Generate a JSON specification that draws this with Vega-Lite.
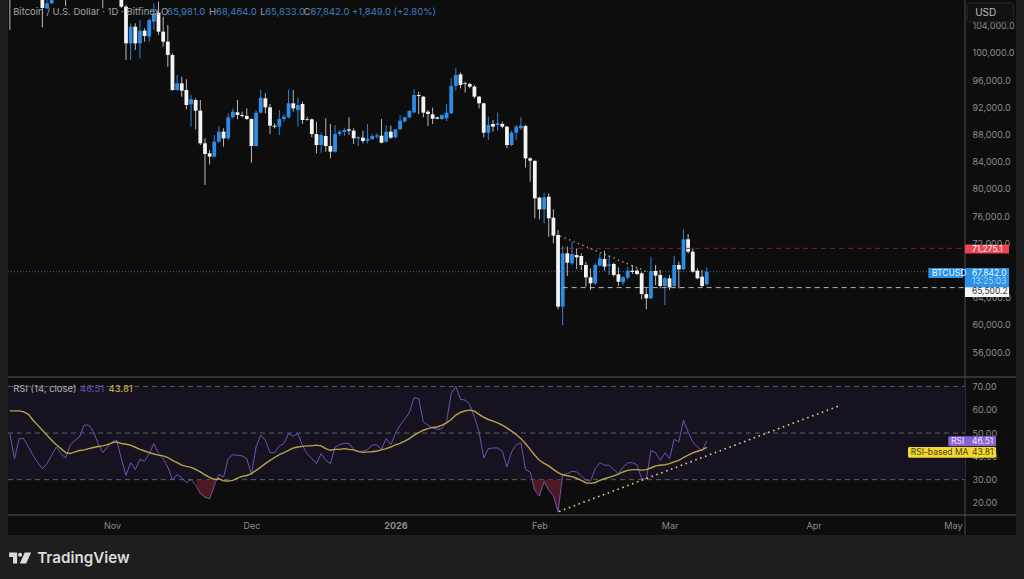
{
  "$schema": "https://vega.github.io/schema/vega-lite/v6.json",
  "width": 1024,
  "height": 579,
  "autosize": {"type": "none"},
  "padding": 0,
  "background": "#0d0d0d",
  "config": {"view": {"stroke": null}, "font": "Inter"},
  "datasets": {
    "candles": [
      {"date":"2025-10-10","open":109300,"high":109800,"low":103380,"close":108300},
      {"date":"2025-10-17","open":108040,"high":108780,"low":103780,"close":106620},
      {"date":"2025-10-18","open":106570,"high":107790,"low":106420,"close":107300},
      {"date":"2025-10-19","open":107300,"high":108770,"low":107200,"close":108280},
      {"date":"2025-10-22","open":109000,"high":110000,"low":106910,"close":108300},
      {"date":"2025-10-30","open":110000,"high":111000,"low":106570,"close":108600},
      {"date":"2025-11-03","open":109270,"high":110600,"low":106620,"close":106810},
      {"date":"2025-11-04","open":106810,"high":107060,"low":98970,"close":101420},
      {"date":"2025-11-05","open":101420,"high":104360,"low":98970,"close":103870},
      {"date":"2025-11-06","open":103870,"high":104360,"low":100440,"close":101420},
      {"date":"2025-11-07","open":101420,"high":104850,"low":99220,"close":103280},
      {"date":"2025-11-08","open":103280,"high":103630,"low":101670,"close":102500},
      {"date":"2025-11-09","open":102400,"high":105100,"low":101670,"close":104850},
      {"date":"2025-11-10","open":104610,"high":107300,"low":103380,"close":105830},
      {"date":"2025-11-11","open":105930,"high":107550,"low":102650,"close":103140},
      {"date":"2025-11-12","open":103140,"high":105340,"low":100930,"close":101670},
      {"date":"2025-11-13","open":101670,"high":104120,"low":97990,"close":99710},
      {"date":"2025-11-14","open":99710,"high":99950,"low":94460,"close":94560},
      {"date":"2025-11-15","open":94560,"high":96760,"low":94460,"close":95540},
      {"date":"2025-11-16","open":95540,"high":96520,"low":93580,"close":94460},
      {"date":"2025-11-17","open":94560,"high":96130,"low":91720,"close":92350},
      {"date":"2025-11-18","open":92450,"high":93820,"low":89170,"close":93190},
      {"date":"2025-11-19","open":93090,"high":93330,"low":88770,"close":91520},
      {"date":"2025-11-20","open":91520,"high":93090,"low":86470,"close":86720},
      {"date":"2025-11-21","open":86720,"high":87450,"low":80590,"close":85150},
      {"date":"2025-11-22","open":85250,"high":85740,"low":83630,"close":84760},
      {"date":"2025-11-23","open":84760,"high":87940,"low":84660,"close":86960},
      {"date":"2025-11-24","open":86960,"high":89260,"low":86810,"close":88430},
      {"date":"2025-11-25","open":88430,"high":88920,"low":86230,"close":87450},
      {"date":"2025-11-26","open":87450,"high":91130,"low":87210,"close":90540},
      {"date":"2025-11-27","open":90540,"high":91860,"low":90390,"close":91370},
      {"date":"2025-11-28","open":91270,"high":93090,"low":90250,"close":90880},
      {"date":"2025-11-29","open":90880,"high":91370,"low":90540,"close":90740},
      {"date":"2025-11-30","open":90740,"high":91860,"low":90150,"close":90290},
      {"date":"2025-12-01","open":90290,"high":90390,"low":83870,"close":86320},
      {"date":"2025-12-02","open":86320,"high":91520,"low":86230,"close":91230},
      {"date":"2025-12-03","open":91230,"high":94560,"low":91130,"close":93430},
      {"date":"2025-12-04","open":93330,"high":94070,"low":91130,"close":92010},
      {"date":"2025-12-05","open":92010,"high":92500,"low":88090,"close":89310},
      {"date":"2025-12-06","open":89310,"high":89660,"low":88920,"close":89170},
      {"date":"2025-12-07","open":89170,"high":91620,"low":87940,"close":90290},
      {"date":"2025-12-08","open":90290,"high":91030,"low":89900,"close":90640},
      {"date":"2025-12-09","open":90540,"high":94660,"low":90390,"close":92600},
      {"date":"2025-12-10","open":92600,"high":94560,"low":91370,"close":91860},
      {"date":"2025-12-11","open":91620,"high":93430,"low":89170,"close":92350},
      {"date":"2025-12-12","open":92500,"high":92840,"low":89560,"close":90150},
      {"date":"2025-12-13","open":90250,"high":90640,"low":90050,"close":90150},
      {"date":"2025-12-14","open":90240,"high":90390,"low":87600,"close":88090},
      {"date":"2025-12-15","open":88090,"high":89900,"low":85240,"close":86470},
      {"date":"2025-12-16","open":86470,"high":88280,"low":85340,"close":87940},
      {"date":"2025-12-17","open":87790,"high":90390,"low":85490,"close":86320},
      {"date":"2025-12-18","open":86320,"high":89560,"low":84510,"close":85490},
      {"date":"2025-12-19","open":85490,"high":89410,"low":85340,"close":88090},
      {"date":"2025-12-20","open":88090,"high":88680,"low":87790,"close":88430},
      {"date":"2025-12-21","open":88380,"high":89020,"low":87790,"close":88680},
      {"date":"2025-12-22","open":88770,"high":90540,"low":87940,"close":88580},
      {"date":"2025-12-23","open":88580,"high":88920,"low":86620,"close":87450},
      {"date":"2025-12-24","open":87400,"high":87790,"low":86320,"close":87600},
      {"date":"2025-12-25","open":87550,"high":88580,"low":86720,"close":87060},
      {"date":"2025-12-26","open":87110,"high":89560,"low":86720,"close":87400},
      {"date":"2025-12-27","open":87350,"high":88090,"low":87210,"close":87790},
      {"date":"2025-12-28","open":87700,"high":88190,"low":87400,"close":87890},
      {"date":"2025-12-29","open":87840,"high":90290,"low":86720,"close":86810},
      {"date":"2025-12-30","open":86960,"high":89410,"low":86810,"close":88430},
      {"date":"2025-12-31","open":88430,"high":89310,"low":87350,"close":87550},
      {"date":"2026-01-01","open":87600,"high":88820,"low":87450,"close":88770},
      {"date":"2026-01-02","open":88770,"high":90880,"low":88680,"close":90050},
      {"date":"2026-01-03","open":89950,"high":90640,"low":89750,"close":90540},
      {"date":"2026-01-04","open":90540,"high":91620,"low":90390,"close":91470},
      {"date":"2026-01-05","open":91270,"high":94660,"low":91130,"close":93820},
      {"date":"2026-01-06","open":93820,"high":94310,"low":91030,"close":93680},
      {"date":"2026-01-07","open":93580,"high":93680,"low":90540,"close":91230},
      {"date":"2026-01-08","open":91370,"high":91620,"low":89260,"close":91030},
      {"date":"2026-01-09","open":90980,"high":91960,"low":89560,"close":90340},
      {"date":"2026-01-10","open":90540,"high":90640,"low":90240,"close":90340},
      {"date":"2026-01-11","open":90290,"high":90980,"low":90150,"close":90880},
      {"date":"2026-01-12","open":90390,"high":92500,"low":90000,"close":91230},
      {"date":"2026-01-13","open":91130,"high":96270,"low":91030,"close":95150},
      {"date":"2026-01-14","open":95150,"high":97750,"low":94460,"close":96760},
      {"date":"2026-01-15","open":96860,"high":97110,"low":94800,"close":95290},
      {"date":"2026-01-16","open":95540,"high":95780,"low":94170,"close":95440},
      {"date":"2026-01-17","open":95440,"high":95640,"low":94800,"close":95050},
      {"date":"2026-01-18","open":95050,"high":95290,"low":93330,"close":93580},
      {"date":"2026-01-19","open":93580,"high":93680,"low":91860,"close":92600},
      {"date":"2026-01-20","open":92600,"high":92700,"low":87600,"close":88280},
      {"date":"2026-01-21","open":88280,"high":90640,"low":87210,"close":89410},
      {"date":"2026-01-22","open":89560,"high":90150,"low":88430,"close":89170},
      {"date":"2026-01-23","open":89410,"high":91230,"low":88580,"close":89660},
      {"date":"2026-01-24","open":89560,"high":89900,"low":88920,"close":89170},
      {"date":"2026-01-25","open":89170,"high":89260,"low":85980,"close":86470},
      {"date":"2026-01-26","open":86470,"high":88580,"low":86320,"close":88280},
      {"date":"2026-01-27","open":88280,"high":89410,"low":87210,"close":89170},
      {"date":"2026-01-28","open":88920,"high":90540,"low":88680,"close":89310},
      {"date":"2026-01-29","open":89260,"high":89410,"low":83190,"close":84510},
      {"date":"2026-01-30","open":84510,"high":84660,"low":81080,"close":84170},
      {"date":"2026-01-31","open":84120,"high":84260,"low":75690,"close":78630},
      {"date":"2026-02-01","open":78730,"high":78870,"low":75540,"close":77010},
      {"date":"2026-02-02","open":77010,"high":79460,"low":74950,"close":78770},
      {"date":"2026-02-03","open":78870,"high":79360,"low":72990,"close":75690},
      {"date":"2026-02-04","open":75780,"high":77010,"low":72010,"close":73140},
      {"date":"2026-02-05","open":73240,"high":73970,"low":62300,"close":62700},
      {"date":"2026-02-06","open":62700,"high":71620,"low":60000,"close":70540},
      {"date":"2026-02-07","open":70540,"high":71520,"low":67210,"close":69170},
      {"date":"2026-02-08","open":69070,"high":72260,"low":68820,"close":70440},
      {"date":"2026-02-09","open":70290,"high":71270,"low":68190,"close":69950},
      {"date":"2026-02-10","open":70150,"high":70540,"low":68090,"close":68820},
      {"date":"2026-02-11","open":68820,"high":69310,"low":65640,"close":67010},
      {"date":"2026-02-12","open":67010,"high":68330,"low":65150,"close":66130},
      {"date":"2026-02-13","open":66130,"high":69070,"low":65880,"close":68820},
      {"date":"2026-02-14","open":68730,"high":70540,"low":68580,"close":69800},
      {"date":"2026-02-15","open":69710,"high":70930,"low":67990,"close":68580},
      {"date":"2026-02-16","open":68730,"high":70290,"low":67350,"close":68920},
      {"date":"2026-02-17","open":68970,"high":69170,"low":67110,"close":67350},
      {"date":"2026-02-18","open":67450,"high":68480,"low":65740,"close":66370},
      {"date":"2026-02-19","open":66270,"high":67210,"low":65880,"close":67010},
      {"date":"2026-02-20","open":66960,"high":68580,"low":66720,"close":67990},
      {"date":"2026-02-21","open":67990,"high":68820,"low":67500,"close":67790},
      {"date":"2026-02-22","open":67990,"high":68330,"low":67350,"close":67500},
      {"date":"2026-02-23","open":67600,"high":67840,"low":63770,"close":64560},
      {"date":"2026-02-24","open":64560,"high":65390,"low":62300,"close":63920},
      {"date":"2026-02-25","open":63920,"high":70050,"low":63770,"close":67940},
      {"date":"2026-02-26","open":67940,"high":68820,"low":65880,"close":67260},
      {"date":"2026-02-27","open":67350,"high":68090,"low":65390,"close":65740},
      {"date":"2026-02-28","open":65740,"high":67110,"low":62940,"close":66860},
      {"date":"2026-03-01","open":66860,"high":67350,"low":65150,"close":65540},
      {"date":"2026-03-02","open":65740,"high":70150,"low":65390,"close":68820},
      {"date":"2026-03-03","open":68820,"high":69310,"low":65390,"close":68190},
      {"date":"2026-03-04","open":68190,"high":74070,"low":68090,"close":72600},
      {"date":"2026-03-05","open":72600,"high":73380,"low":70540,"close":70780},
      {"date":"2026-03-06","open":70780,"high":71270,"low":67700,"close":67840},
      {"date":"2026-03-07","open":67990,"high":68330,"low":66720,"close":66860},
      {"date":"2026-03-08","open":67110,"high":68090,"low":65540,"close":65740},
      {"date":"2026-03-09","open":65981,"high":68464,"low":65833,"close":67842}
    ],
    "rsi": [
      {"date":"2025-10-10","rsi":49.8,"ma":59.5},{"date":"2025-10-11","rsi":39.0,"ma":59.5},
      {"date":"2025-10-12","rsi":47.6,"ma":59.5},{"date":"2025-10-13","rsi":47.6,"ma":59.1},
      {"date":"2025-10-14","rsi":44.0,"ma":58.0},{"date":"2025-10-15","rsi":40.5,"ma":55.5},
      {"date":"2025-10-16","rsi":37.3,"ma":53.4},{"date":"2025-10-17","rsi":34.7,"ma":51.2},
      {"date":"2025-10-18","rsi":36.9,"ma":49.1},{"date":"2025-10-19","rsi":40.5,"ma":46.9},
      {"date":"2025-10-20","rsi":44.0,"ma":45.0},{"date":"2025-10-21","rsi":41.2,"ma":43.3},
      {"date":"2025-10-22","rsi":39.3,"ma":41.6},{"date":"2025-10-23","rsi":44.8,"ma":41.2},
      {"date":"2025-10-24","rsi":46.9,"ma":41.9},{"date":"2025-10-25","rsi":48.3,"ma":42.5},
      {"date":"2025-10-26","rsi":53.4,"ma":42.8},{"date":"2025-10-27","rsi":53.4,"ma":43.3},
      {"date":"2025-10-28","rsi":50.5,"ma":43.8},{"date":"2025-10-29","rsi":45.5,"ma":44.2},
      {"date":"2025-10-30","rsi":41.6,"ma":44.5},{"date":"2025-10-31","rsi":44.0,"ma":45.0},
      {"date":"2025-11-01","rsi":46.2,"ma":45.8},{"date":"2025-11-02","rsi":46.9,"ma":46.2},
      {"date":"2025-11-03","rsi":39.0,"ma":45.5},{"date":"2025-11-04","rsi":31.8,"ma":45.2},
      {"date":"2025-11-05","rsi":37.3,"ma":44.8},{"date":"2025-11-06","rsi":34.3,"ma":43.9},
      {"date":"2025-11-07","rsi":38.7,"ma":43.0},{"date":"2025-11-08","rsi":37.9,"ma":42.3},
      {"date":"2025-11-09","rsi":41.2,"ma":41.6},{"date":"2025-11-10","rsi":45.5,"ma":41.0},
      {"date":"2025-11-11","rsi":41.2,"ma":40.5},{"date":"2025-11-12","rsi":39.0,"ma":40.2},
      {"date":"2025-11-13","rsi":35.4,"ma":39.5},{"date":"2025-11-14","rsi":30.1,"ma":38.3},
      {"date":"2025-11-15","rsi":32.1,"ma":37.3},{"date":"2025-11-16","rsi":30.8,"ma":36.2},
      {"date":"2025-11-17","rsi":28.7,"ma":35.7},{"date":"2025-11-18","rsi":30.1,"ma":35.3},
      {"date":"2025-11-19","rsi":27.8,"ma":34.4},{"date":"2025-11-20","rsi":24.0,"ma":33.3},
      {"date":"2025-11-21","rsi":22.5,"ma":32.1},{"date":"2025-11-22","rsi":21.8,"ma":31.0},
      {"date":"2025-11-23","rsi":27.5,"ma":30.1},{"date":"2025-11-24","rsi":32.3,"ma":30.4},
      {"date":"2025-11-25","rsi":31.1,"ma":29.5},{"date":"2025-11-26","rsi":39.0,"ma":29.4},
      {"date":"2025-11-27","rsi":40.7,"ma":29.7},{"date":"2025-11-28","rsi":40.5,"ma":30.7},
      {"date":"2025-11-29","rsi":40.2,"ma":31.4},{"date":"2025-11-30","rsi":39.0,"ma":31.8},
      {"date":"2025-12-01","rsi":32.3,"ma":32.6},{"date":"2025-12-02","rsi":44.0,"ma":34.0},
      {"date":"2025-12-03","rsi":49.1,"ma":35.4},{"date":"2025-12-04","rsi":46.9,"ma":36.9},
      {"date":"2025-12-05","rsi":41.6,"ma":38.3},{"date":"2025-12-06","rsi":41.6,"ma":39.5},
      {"date":"2025-12-07","rsi":44.5,"ma":40.7},{"date":"2025-12-08","rsi":45.5,"ma":41.6},
      {"date":"2025-12-09","rsi":49.8,"ma":42.6},{"date":"2025-12-10","rsi":48.6,"ma":43.6},
      {"date":"2025-12-11","rsi":49.8,"ma":44.0},{"date":"2025-12-12","rsi":44.5,"ma":44.3},
      {"date":"2025-12-13","rsi":41.2,"ma":44.5},{"date":"2025-12-14","rsi":39.0,"ma":44.5},
      {"date":"2025-12-15","rsi":36.9,"ma":44.8},{"date":"2025-12-16","rsi":41.2,"ma":44.5},
      {"date":"2025-12-17","rsi":38.3,"ma":43.3},{"date":"2025-12-18","rsi":36.9,"ma":42.6},
      {"date":"2025-12-19","rsi":44.0,"ma":43.0},{"date":"2025-12-20","rsi":45.0,"ma":43.0},
      {"date":"2025-12-21","rsi":45.6,"ma":43.3},{"date":"2025-12-22","rsi":45.5,"ma":43.0},
      {"date":"2025-12-23","rsi":43.0,"ma":42.8},{"date":"2025-12-24","rsi":42.2,"ma":42.0},
      {"date":"2025-12-25","rsi":42.2,"ma":41.7},{"date":"2025-12-26","rsi":43.0,"ma":41.9},
      {"date":"2025-12-27","rsi":44.8,"ma":42.0},{"date":"2025-12-28","rsi":45.0,"ma":42.3},
      {"date":"2025-12-29","rsi":43.0,"ma":42.8},{"date":"2025-12-30","rsi":47.6,"ma":43.3},
      {"date":"2025-12-31","rsi":45.0,"ma":44.0},{"date":"2026-01-01","rsi":49.8,"ma":44.9},
      {"date":"2026-01-02","rsi":53.4,"ma":45.6},{"date":"2026-01-03","rsi":55.9,"ma":46.5},
      {"date":"2026-01-04","rsi":58.8,"ma":47.6},{"date":"2026-01-05","rsi":65.1,"ma":49.1},
      {"date":"2026-01-06","rsi":64.8,"ma":50.2},{"date":"2026-01-07","rsi":54.8,"ma":51.2},
      {"date":"2026-01-08","rsi":53.4,"ma":51.9},{"date":"2026-01-09","rsi":52.2,"ma":52.4},
      {"date":"2026-01-10","rsi":51.6,"ma":52.6},{"date":"2026-01-11","rsi":51.9,"ma":53.4},
      {"date":"2026-01-12","rsi":54.8,"ma":54.4},{"date":"2026-01-13","rsi":67.0,"ma":55.8},
      {"date":"2026-01-14","rsi":70.0,"ma":57.7},{"date":"2026-01-15","rsi":64.5,"ma":58.8},
      {"date":"2026-01-16","rsi":64.1,"ma":59.5},{"date":"2026-01-17","rsi":62.3,"ma":59.8},
      {"date":"2026-01-18","rsi":57.0,"ma":59.4},{"date":"2026-01-19","rsi":50.5,"ma":58.0},
      {"date":"2026-01-20","rsi":39.3,"ma":56.7},{"date":"2026-01-21","rsi":43.3,"ma":55.8},
      {"date":"2026-01-22","rsi":43.6,"ma":55.1},{"date":"2026-01-23","rsi":43.6,"ma":54.4},
      {"date":"2026-01-24","rsi":42.2,"ma":53.4},{"date":"2026-01-25","rsi":35.4,"ma":52.2},
      {"date":"2026-01-26","rsi":41.9,"ma":50.8},{"date":"2026-01-27","rsi":45.0,"ma":49.4},
      {"date":"2026-01-28","rsi":45.8,"ma":47.6},{"date":"2026-01-29","rsi":34.4,"ma":45.5},
      {"date":"2026-01-30","rsi":33.3,"ma":43.0},{"date":"2026-01-31","rsi":25.4,"ma":40.5},
      {"date":"2026-02-01","rsi":23.0,"ma":38.3},{"date":"2026-02-02","rsi":29.3,"ma":37.0},
      {"date":"2026-02-03","rsi":25.4,"ma":35.9},{"date":"2026-02-04","rsi":23.2,"ma":34.4},
      {"date":"2026-02-05","rsi":16.1,"ma":33.0},{"date":"2026-02-06","rsi":32.1,"ma":32.1},
      {"date":"2026-02-07","rsi":32.6,"ma":31.7},{"date":"2026-02-08","rsi":33.6,"ma":31.3},
      {"date":"2026-02-09","rsi":33.3,"ma":30.6},{"date":"2026-02-10","rsi":31.8,"ma":29.7},
      {"date":"2026-02-11","rsi":29.7,"ma":28.7},{"date":"2026-02-12","rsi":29.4,"ma":28.4},
      {"date":"2026-02-13","rsi":34.7,"ma":28.8},{"date":"2026-02-14","rsi":37.3,"ma":29.7},
      {"date":"2026-02-15","rsi":36.2,"ma":30.4},{"date":"2026-02-16","rsi":36.2,"ma":31.0},
      {"date":"2026-02-17","rsi":34.4,"ma":31.6},{"date":"2026-02-18","rsi":32.6,"ma":32.4},
      {"date":"2026-02-19","rsi":35.4,"ma":33.3},{"date":"2026-02-20","rsi":37.2,"ma":34.0},
      {"date":"2026-02-21","rsi":37.3,"ma":34.3},{"date":"2026-02-22","rsi":36.4,"ma":34.3},
      {"date":"2026-02-23","rsi":30.4,"ma":34.1},{"date":"2026-02-24","rsi":30.4,"ma":34.3},
      {"date":"2026-02-25","rsi":42.5,"ma":35.0},{"date":"2026-02-26","rsi":41.6,"ma":35.9},
      {"date":"2026-02-27","rsi":38.3,"ma":36.2},{"date":"2026-02-28","rsi":41.6,"ma":36.4},
      {"date":"2026-03-01","rsi":39.0,"ma":36.9},{"date":"2026-03-02","rsi":47.3,"ma":37.6},
      {"date":"2026-03-03","rsi":46.2,"ma":38.3},{"date":"2026-03-04","rsi":55.5,"ma":39.5},
      {"date":"2026-03-05","rsi":50.5,"ma":40.5},{"date":"2026-03-06","rsi":46.2,"ma":41.5},
      {"date":"2026-03-07","rsi":44.0,"ma":42.2},{"date":"2026-03-08","rsi":42.3,"ma":42.8},
      {"date":"2026-03-09","rsi":46.51,"ma":43.81}
    ]
  },
  "encoding": {
    "x": {
      "field": "date",
      "type": "temporal",
      "scale": {
        "type": "utc",
        "domain": ["2025-10-09T14:24:00Z", "2026-05-03T14:24:00Z"],
        "range": [8, 965],
        "padding": 0
      },
      "axis": {
        "orient": "bottom",
        "offset": -64,
        "title": null,
        "grid": false,
        "ticks": false,
        "domain": false,
        "tickCount": "month",
        "labelPadding": 6,
        "labelFont": "Inter",
        "labelFontSize": 9,
        "labelColor": "#8c8c8c",
        "labelOverlap": false,
        "labelExpr": "utcFormat(datum.value, '%m') == '01' ? '2026' : utcFormat(datum.value, '%b')",
        "labelFontWeight": {"condition": {"test": "utcFormat(datum.value, '%m') == '01'", "value": 700}, "value": 400}
      }
    }
  },
  "layer": [
    {
      "encoding": {
        "y": {
          "field": "price",
          "type": "quantitative",
          "scale": {"domain": [52500, 107794], "range": [376, 0], "nice": false, "zero": false},
          "axis": {
            "orient": "right",
            "offset": -59,
            "title": null,
            "grid": false,
            "ticks": false,
            "domain": false,
            "values": [56000, 60000, 64000, 72000, 76000, 80000, 84000, 88000, 92000, 96000, 100000, 104000],
            "format": ",.1f",
            "labelPadding": 7,
            "labelFont": "Inter",
            "labelFontSize": 9,
            "labelColor": "#8c8c8c",
            "labelOverlap": false,
            "labelBound": false
          }
        }
      },
      "resolve": {"scale": {"color": "independent"}},
      "layer": [
        {
          "data": {"values": [
            {"date": "2025-10-01", "end": "2025-10-09T14:24:00Z", "price": 120000, "price2": 0},
            {"date": "2026-05-14T14:00:00Z", "end": "2026-06-01", "price": 120000, "price2": 0},
            {"date": "2025-10-01", "end": "2026-06-01", "price": 29118, "price2": 0}
          ]},
          "mark": {"type": "rect", "color": "#1e1e1e"},
          "encoding": {"x2": {"field": "end"}, "y2": {"field": "price2"}}
        },
        {
          "data": {"values": [
            {"date": "2025-10-09T14:24:00Z", "end": "2026-05-14T14:00:00Z", "price": 52353},
            {"date": "2025-10-09T14:24:00Z", "end": "2026-05-14T14:00:00Z", "price": 32060}
          ]},
          "mark": {"type": "rule", "color": "#3f3f3f", "strokeWidth": 1.6},
          "encoding": {"x2": {"field": "end"}}
        },
        {
          "data": {"values": [{"date": "2026-05-03T14:24:00Z", "price": 107794, "price2": 29118}]},
          "mark": {"type": "rule", "color": "#4c4c4c", "strokeWidth": 1},
          "encoding": {"y2": {"field": "price2"}}
        },
        {
          "data": {"values": [{"date": "2025-10-09T14:24:00Z", "end": "2026-04-25T17:00:00Z", "price": 67842}]},
          "mark": {"type": "rule", "color": "#2a73bd", "strokeWidth": 1, "strokeDash": [1, 2]},
          "encoding": {"x2": {"field": "end"}}
        },
        {
          "data": {"name": "candles"},
          "mark": {"type": "rule", "strokeWidth": 1},
          "encoding": {
            "y": {"field": "high", "type": "quantitative"},
            "y2": {"field": "low"},
            "color": {"condition": {"test": "datum.close >= datum.open", "value": "#2d84d8"}, "value": "#b9b9b9"}
          }
        },
        {
          "data": {"name": "candles"},
          "mark": {"type": "bar", "size": 3.8},
          "encoding": {
            "y": {"field": "open", "type": "quantitative"},
            "y2": {"field": "close"},
            "color": {"condition": {"test": "datum.close >= datum.open", "value": "#2d8ce6"}, "value": "#f4f4f4"}
          }
        },
        {
          "data": {"values": [{"date": "2026-02-05T11:00:00Z", "end": "2026-05-03T14:24:00Z", "price": 71275.1}]},
          "mark": {"type": "rule", "color": "#7a2b31", "strokeWidth": 1, "strokeDash": [5, 4]},
          "encoding": {"x2": {"field": "end"}}
        },
        {
          "data": {"values": [{"date": "2026-02-06", "end": "2026-05-03T14:24:00Z", "price": 65500.2}]},
          "mark": {"type": "rule", "color": "#b5b5b5", "strokeWidth": 1, "strokeDash": [5, 4]},
          "encoding": {"x2": {"field": "end"}}
        },
        {
          "data": {"values": [
            {"date": "2026-02-05T11:00:00Z", "price": 73088},
            {"date": "2026-02-24T02:00:00Z", "price": 67838}
          ]},
          "mark": {"type": "line", "color": "#c9b26a", "strokeWidth": 1.3, "strokeDash": [1.3, 3.5]}
        },
        {
          "data": {"values": [
            {"date": "2026-04-25T17:00:00Z", "end": "2026-05-03T05:00:00Z", "price": 68383, "price2": 66912, "tone": "blue"},
            {"date": "2026-05-03T14:24:00Z", "end": "2026-05-13T02:00:00Z", "price": 71838, "price2": 70514, "tone": "red"},
            {"date": "2026-05-03T14:24:00Z", "end": "2026-05-13T02:00:00Z", "price": 68383, "price2": 65441, "tone": "blue"},
            {"date": "2026-05-03T14:24:00Z", "end": "2026-05-13T02:00:00Z", "price": 65544, "price2": 64118, "tone": "white"}
          ]},
          "mark": {"type": "rect"},
          "encoding": {
            "x2": {"field": "end"},
            "y2": {"field": "price2"},
            "color": {
              "field": "tone",
              "type": "nominal",
              "legend": null,
              "scale": {"domain": ["blue", "red", "white"], "range": ["#2a92e8", "#ee4350", "#f5f5f5"]}
            }
          }
        },
        {
          "data": {"values": [{"date": "2026-05-04T02:00:00Z", "end": "2026-05-14", "price": 107353, "price2": 104559}]},
          "mark": {"type": "rect", "color": "#111111", "stroke": "#2a2a2a", "strokeWidth": 1, "cornerRadius": 2},
          "encoding": {"x2": {"field": "end"}, "y2": {"field": "price2"}}
        },
        {
          "data": {"values": [{"date": "2026-05-05T19:00:00Z", "price": 105882, "label": "USD"}]},
          "mark": {"type": "text", "align": "left", "baseline": "middle", "font": "Inter", "fontSize": 10, "color": "#bdbdbd"},
          "encoding": {"text": {"field": "label"}}
        },
        {
          "data": {"values": [
            {"date": "2025-10-10T17:00:00Z", "price": 106030, "label": "Bitcoin / U.S. Dollar · 1D · Bitfinex", "tone": "muted"},
            {"date": "2025-11-11T13:00:00Z", "price": 106030, "label": "O", "tone": "muted"},
            {"date": "2025-11-12T20:00:00Z", "price": 106030, "label": "65,981.0", "tone": "quote"},
            {"date": "2025-11-21T21:00:00Z", "price": 106030, "label": "H", "tone": "muted"},
            {"date": "2025-11-23T09:00:00Z", "price": 106030, "label": "68,464.0", "tone": "quote"},
            {"date": "2025-12-02T21:00:00Z", "price": 106030, "label": "L", "tone": "muted"},
            {"date": "2025-12-03T23:00:00Z", "price": 106030, "label": "65,833.0", "tone": "quote"},
            {"date": "2025-12-12T05:00:00Z", "price": 106030, "label": "C", "tone": "muted"},
            {"date": "2025-12-13T17:00:00Z", "price": 106030, "label": "67,842.0", "tone": "quote"},
            {"date": "2025-12-22T16:00:00Z", "price": 106030, "label": "+1,849.0 (+2.80%)", "tone": "quote"}
          ]},
          "mark": {"type": "text", "align": "left", "baseline": "middle", "font": "Inter", "fontSize": 9.5},
          "encoding": {
            "text": {"field": "label"},
            "color": {
              "field": "tone",
              "type": "nominal",
              "legend": null,
              "scale": {"domain": ["muted", "quote"], "range": ["#a3a3a3", "#3a82c6"]}
            }
          }
        },
        {
          "data": {"values": [
            {"date": "2026-05-05T02:00:00Z", "price": 71175, "label": "71,275.1", "tone": "light"},
            {"date": "2026-04-26T12:00:00Z", "price": 67690, "label": "BTCUSD", "tone": "light"},
            {"date": "2026-05-05T02:00:00Z", "price": 67690, "label": "67,842.0", "tone": "light"},
            {"date": "2026-05-05T02:00:00Z", "price": 66470, "label": "13:25:03", "tone": "pale"},
            {"date": "2026-05-05T02:00:00Z", "price": 64927, "label": "65,500.2", "tone": "dark"}
          ]},
          "mark": {"type": "text", "align": "left", "baseline": "middle", "font": "Inter", "fontSize": 8.5},
          "encoding": {
            "text": {"field": "label"},
            "color": {
              "field": "tone",
              "type": "nominal",
              "legend": null,
              "scale": {"domain": ["light", "pale", "dark"], "range": ["#f4f8fc", "#a9d6fb", "#3a3a3a"]}
            }
          }
        },
        {
          "data": {"values": [{"date": "2025-10-12T05:00:00Z", "price": 25733}]},
          "mark": {
            "type": "point",
            "shape": "M-1,-0.5 L-0.27,-0.5 L-0.27,0.5 L-0.64,0.5 L-0.64,-0.1 L-1,-0.1 Z M0.18,-0.3 A0.18,0.18 0 1 1 -0.18,-0.3 A0.18,0.18 0 1 1 0.18,-0.3 Z M0.42,-0.5 L1,-0.5 L0.55,0.5 L-0.03,0.5 Z",
            "size": 484,
            "filled": true,
            "opacity": 1,
            "color": "#dcdcdc"
          }
        },
        {
          "data": {"values": [{"date": "2025-10-15T21:00:00Z", "price": 25733, "label": "TradingView"}]},
          "mark": {"type": "text", "align": "left", "baseline": "middle", "font": "Inter", "fontSize": 15.2, "fontWeight": 600, "color": "#dcdcdc"},
          "encoding": {"text": {"field": "label"}}
        }
      ]
    },
    {
      "encoding": {
        "y": {
          "field": "rsi",
          "type": "quantitative",
          "scale": {"domain": [14.85, 73.6], "range": [515, 378], "nice": false, "zero": false},
          "axis": {
            "orient": "right",
            "offset": -59,
            "title": null,
            "grid": false,
            "ticks": false,
            "domain": false,
            "values": [20, 30, 40, 50, 60, 70],
            "format": ".2f",
            "labelPadding": 7,
            "labelFont": "Inter",
            "labelFontSize": 9,
            "labelColor": "#8c8c8c",
            "labelOverlap": false,
            "labelBound": false
          }
        }
      },
      "resolve": {"scale": {"color": "independent"}},
      "layer": [
        {
          "data": {"values": [{"date": "2025-10-09T14:24:00Z", "end": "2026-05-03T14:24:00Z", "rsi": 70, "rsi2": 30}]},
          "mark": {"type": "rect", "color": "#17121f"},
          "encoding": {"x2": {"field": "end"}, "y2": {"field": "rsi2"}}
        },
        {
          "data": {"values": [
            {"date": "2025-10-09T14:24:00Z", "end": "2026-05-03T14:24:00Z", "rsi": 70},
            {"date": "2025-10-09T14:24:00Z", "end": "2026-05-03T14:24:00Z", "rsi": 50},
            {"date": "2025-10-09T14:24:00Z", "end": "2026-05-03T14:24:00Z", "rsi": 30}
          ]},
          "mark": {"type": "rule", "color": "#5f5f68", "strokeWidth": 1, "strokeDash": [5, 4]},
          "encoding": {"x2": {"field": "end"}}
        },
        {
          "data": {"values": [
            {"date": "2025-11-19T00:00:00Z", "rsi": 30, "run": "nov"},
            {"date": "2025-11-20", "rsi": 24.0, "run": "nov"},
            {"date": "2025-11-21", "rsi": 22.5, "run": "nov"},
            {"date": "2025-11-22", "rsi": 21.8, "run": "nov"},
            {"date": "2025-11-23", "rsi": 27.5, "run": "nov"},
            {"date": "2025-11-23T12:00:00Z", "rsi": 30, "run": "nov"},
            {"date": "2026-01-30T08:00:00Z", "rsi": 30, "run": "feb"},
            {"date": "2026-01-31", "rsi": 25.4, "run": "feb"},
            {"date": "2026-02-01", "rsi": 23.0, "run": "feb"},
            {"date": "2026-02-02", "rsi": 29.3, "run": "feb"},
            {"date": "2026-02-03", "rsi": 25.4, "run": "feb"},
            {"date": "2026-02-04", "rsi": 23.2, "run": "feb"},
            {"date": "2026-02-05", "rsi": 16.1, "run": "feb"},
            {"date": "2026-02-05T20:00:00Z", "rsi": 30, "run": "feb"}
          ]},
          "mark": {"type": "area", "color": "#4e1a21"},
          "encoding": {"y2": {"datum": 30}, "detail": {"field": "run"}}
        },
        {
          "data": {"name": "rsi"},
          "mark": {"type": "line", "color": "#6f52b5", "strokeWidth": 1}
        },
        {
          "data": {"name": "rsi"},
          "mark": {"type": "line", "color": "#bda248", "strokeWidth": 1.4},
          "encoding": {"y": {"field": "ma", "type": "quantitative"}}
        },
        {
          "data": {"values": [
            {"date": "2026-02-05T05:00:00Z", "rsi": 16.36},
            {"date": "2026-04-06T22:00:00Z", "rsi": 61.96}
          ]},
          "mark": {"type": "line", "color": "#e3cf7c", "strokeWidth": 1.6, "strokeDash": [1.6, 3.6]}
        },
        {
          "data": {"values": [
            {"date": "2026-04-30", "end": "2026-05-10T07:00:00Z", "rsi": 48.63, "rsi2": 44.33, "tone": "rsi"},
            {"date": "2026-04-21T08:00:00Z", "end": "2026-05-10T07:00:00Z", "rsi": 44.04, "rsi2": 39.45, "tone": "ma"}
          ]},
          "mark": {"type": "rect", "cornerRadius": 1.5},
          "encoding": {
            "x2": {"field": "end"},
            "y2": {"field": "rsi2"},
            "color": {
              "field": "tone",
              "type": "nominal",
              "legend": null,
              "scale": {"domain": ["rsi", "ma"], "range": ["#8a62d6", "#f3d82f"]}
            }
          }
        },
        {
          "data": {"values": [
            {"date": "2025-10-10T17:00:00Z", "rsi": 68.85, "label": "RSI (14, close)", "tone": "title"},
            {"date": "2025-10-25T03:00:00Z", "rsi": 68.85, "label": "46.51", "tone": "rsi"},
            {"date": "2025-10-31T06:00:00Z", "rsi": 68.85, "label": "43.81", "tone": "ma"}
          ]},
          "mark": {"type": "text", "align": "left", "baseline": "middle", "font": "Inter", "fontSize": 9.5},
          "encoding": {
            "text": {"field": "label"},
            "color": {
              "field": "tone",
              "type": "nominal",
              "legend": null,
              "scale": {"domain": ["title", "rsi", "ma"], "range": ["#b0b0b0", "#6f52b5", "#d9c14a"]}
            }
          }
        },
        {
          "data": {"values": [
            {"date": "2026-04-30T14:00:00Z", "rsi": 46.5, "label": "RSI", "tone": "onrsi"},
            {"date": "2026-05-05T02:00:00Z", "rsi": 46.5, "label": "46.51", "tone": "onrsi"},
            {"date": "2026-04-21T22:00:00Z", "rsi": 41.75, "label": "RSI-based MA", "tone": "onma"},
            {"date": "2026-05-05T02:00:00Z", "rsi": 41.75, "label": "43.81", "tone": "onma"}
          ]},
          "mark": {"type": "text", "align": "left", "baseline": "middle", "font": "Inter", "fontSize": 8.5},
          "encoding": {
            "text": {"field": "label"},
            "color": {
              "field": "tone",
              "type": "nominal",
              "legend": null,
              "scale": {"domain": ["onrsi", "onma"], "range": ["#ece4fa", "#4d4410"]}
            }
          }
        }
      ]
    }
  ],
  "resolve": {
    "scale": {"y": "independent", "color": "independent"},
    "axis": {"y": "independent"}
  }
}
